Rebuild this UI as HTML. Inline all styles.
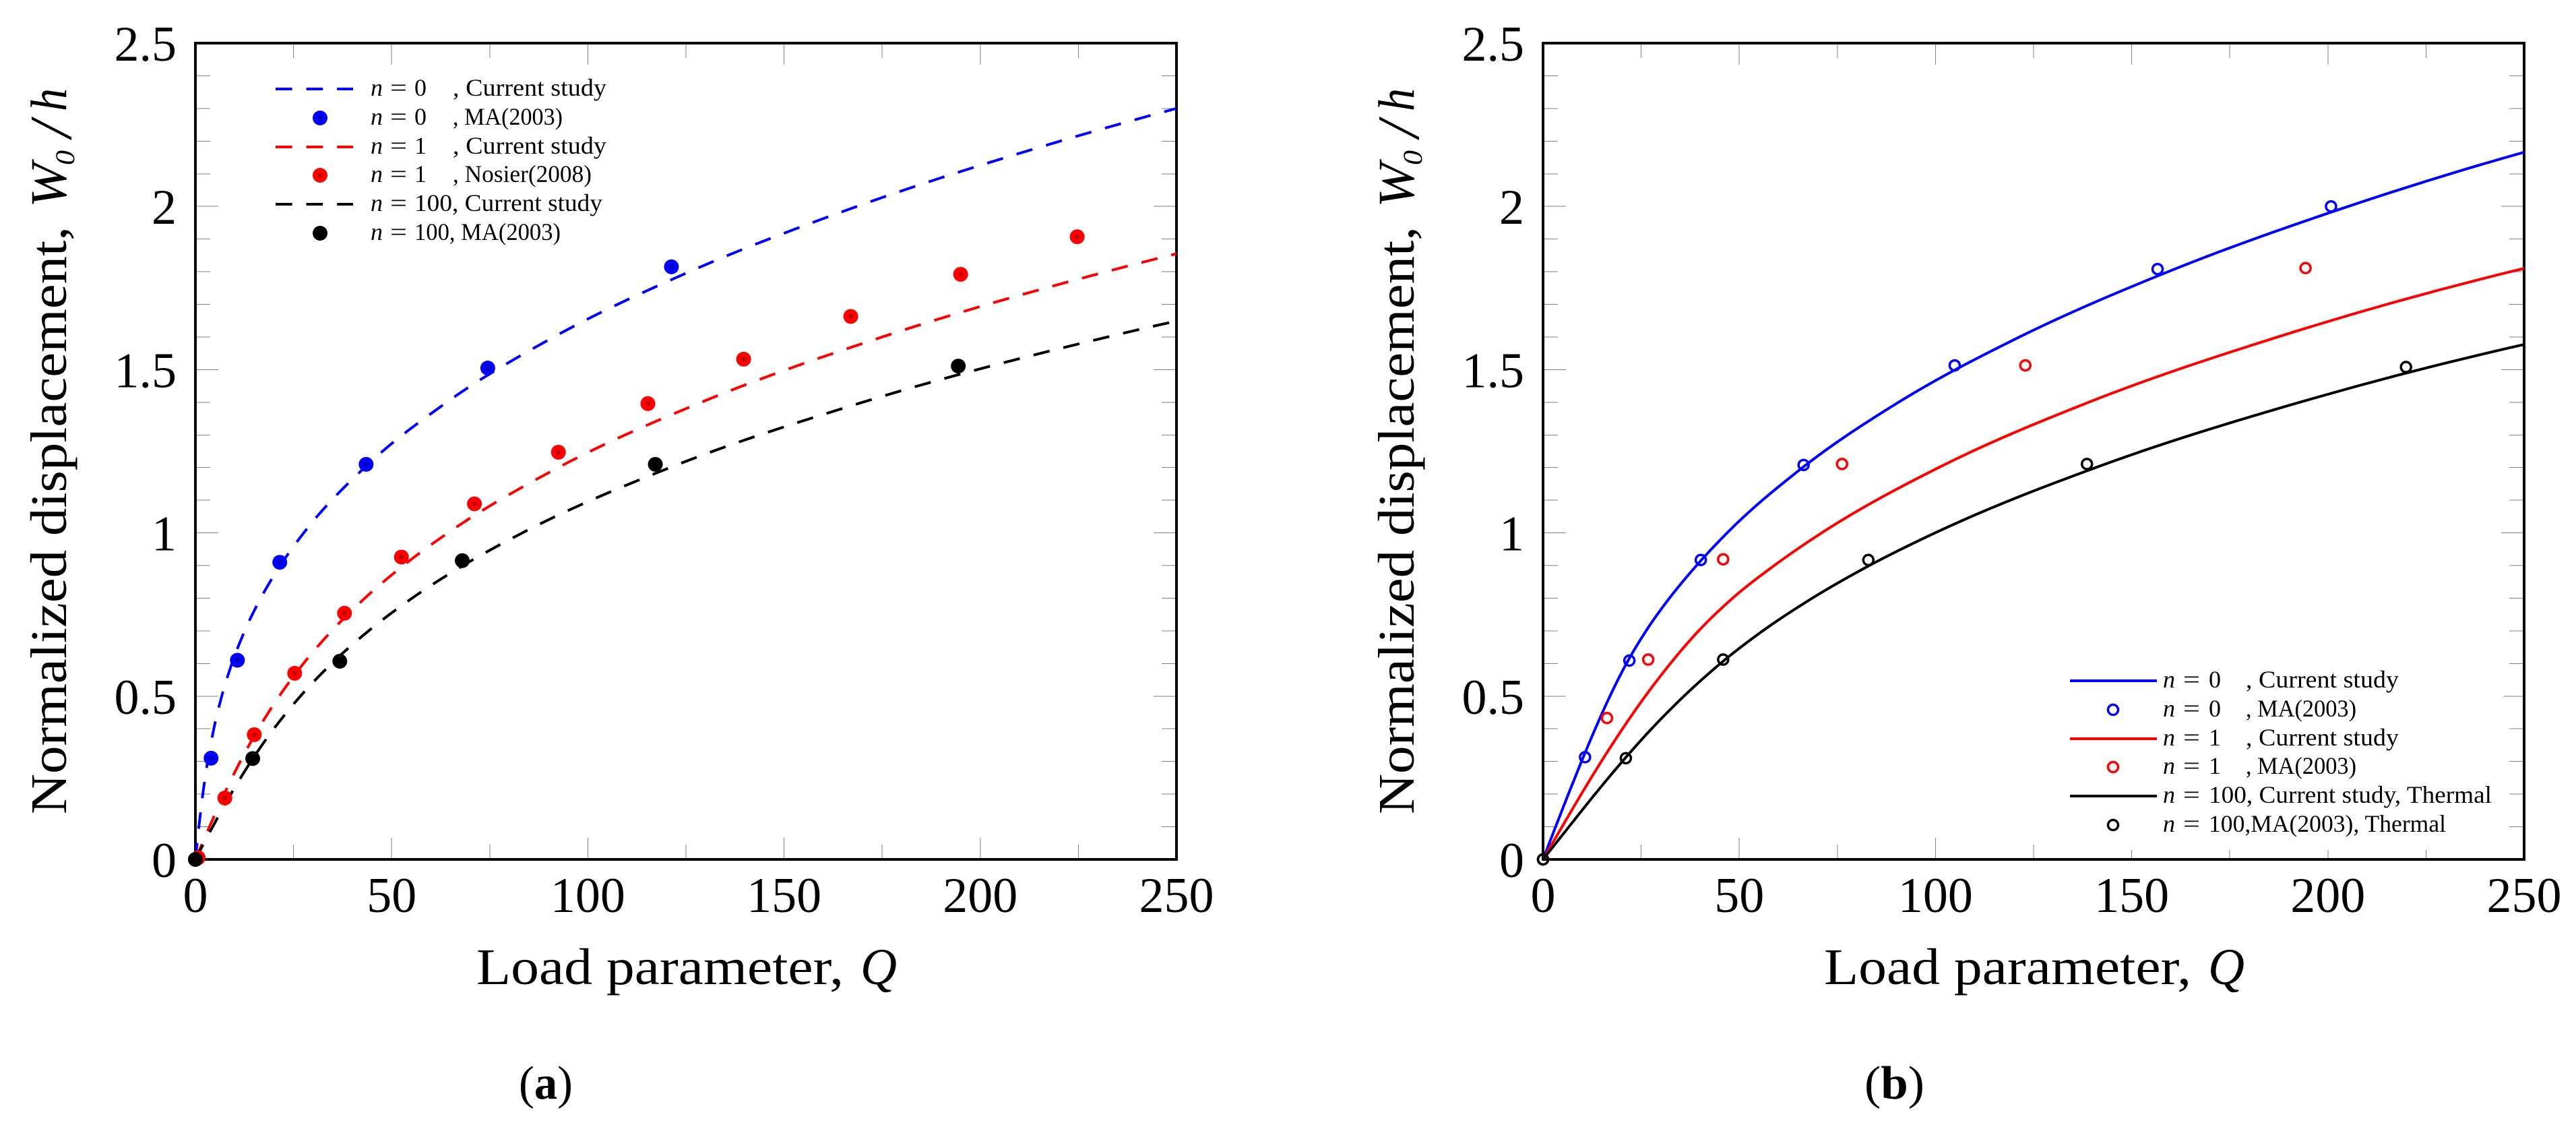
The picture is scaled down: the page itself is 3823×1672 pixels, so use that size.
<!DOCTYPE html>
<html lang="en">
<head>
<meta charset="utf-8">
<title>Normalized displacement versus load parameter</title>
<style>
html,body{margin:0;padding:0;background:#fff;width:3823px;height:1672px;overflow:hidden}
svg{display:block}
text{font-family:"Liberation Serif",serif;fill:#000}
.ax{font-size:76px}
.leg{font-size:36px}
.it{font-style:italic}
</style>
</head>
<body>
<svg id="figure" xmlns="http://www.w3.org/2000/svg" width="3823" height="1672" viewBox="0 0 3823 1672">
<rect x="0" y="0" width="3823" height="1672" fill="#fff"/>

<g id="panel-a"></g>
<g id="panel-b"></g>

<g>
  <text class="ax" x="707" y="1460" textLength="545" lengthAdjust="spacingAndGlyphs">Load parameter,</text>
  <text class="ax it" x="1277" y="1460" textLength="54" lengthAdjust="spacingAndGlyphs">Q</text>
  <g transform="translate(98,1208) rotate(-90)">
    <text class="ax" x="0" y="0" textLength="872" lengthAdjust="spacingAndGlyphs">Normalized displacement,</text>
    <text class="ax it" x="900" y="0" textLength="66" lengthAdjust="spacingAndGlyphs">W</text>
    <text class="it" x="963" y="12" font-size="40" textLength="22" lengthAdjust="spacingAndGlyphs">0</text>
    <text class="it" x="1004" y="7" font-size="88">/</text>
    <text class="ax it" x="1043" y="0" textLength="34" lengthAdjust="spacingAndGlyphs">h</text>
  </g>
  <text x="770" y="1630" font-size="70" textLength="80" lengthAdjust="spacingAndGlyphs">(<tspan font-weight="bold">a</tspan>)</text>
</g>

<g>
  <text class="ax" x="2707" y="1460" textLength="545" lengthAdjust="spacingAndGlyphs">Load parameter,</text>
  <text class="ax it" x="3277" y="1460" textLength="54" lengthAdjust="spacingAndGlyphs">Q</text>
  <g transform="translate(2098,1208) rotate(-90)">
    <text class="ax" x="0" y="0" textLength="872" lengthAdjust="spacingAndGlyphs">Normalized displacement,</text>
    <text class="ax it" x="900" y="0" textLength="66" lengthAdjust="spacingAndGlyphs">W</text>
    <text class="it" x="963" y="12" font-size="40" textLength="22" lengthAdjust="spacingAndGlyphs">0</text>
    <text class="it" x="1004" y="7" font-size="88">/</text>
    <text class="ax it" x="1043" y="0" textLength="34" lengthAdjust="spacingAndGlyphs">h</text>
  </g>
  <text x="2767" y="1630" font-size="70" textLength="89" lengthAdjust="spacingAndGlyphs">(<tspan font-weight="bold">b</tspan>)</text>
</g>

<g>
  <g>
    <line x1="409" x2="524" y1="132" y2="132" stroke="#0000ff" stroke-width="4" stroke-dasharray="24.6 21"/>
    <text class="leg it" x="550" y="142">n</text><text class="leg" x="579" y="142" textLength="25" lengthAdjust="spacingAndGlyphs">=</text><text class="leg" x="615" y="142">0</text>
    <text class="leg" x="672" y="142" textLength="228" lengthAdjust="spacingAndGlyphs">, Current study</text>
  </g>
  <g>
    <circle cx="475" cy="175" r="11" fill="#0000ff"/><circle cx="475" cy="175" r="3.5" fill="#0000c0"/>
    <text class="leg it" x="550" y="185">n</text><text class="leg" x="579" y="185" textLength="25" lengthAdjust="spacingAndGlyphs">=</text><text class="leg" x="615" y="185">0</text>
    <text class="leg" x="672" y="185" textLength="163" lengthAdjust="spacingAndGlyphs">, MA(2003)</text>
  </g>
  <g>
    <line x1="409" x2="524" y1="218" y2="218" stroke="#ff0000" stroke-width="4" stroke-dasharray="24.6 21"/>
    <text class="leg it" x="550" y="228">n</text><text class="leg" x="579" y="228" textLength="25" lengthAdjust="spacingAndGlyphs">=</text><text class="leg" x="615" y="228">1</text>
    <text class="leg" x="672" y="228" textLength="228" lengthAdjust="spacingAndGlyphs">, Current study</text>
  </g>
  <g>
    <circle cx="475" cy="260" r="11" fill="#ff0000"/><circle cx="475" cy="260" r="3.5" fill="#c00000"/>
    <text class="leg it" x="550" y="270">n</text><text class="leg" x="579" y="270" textLength="25" lengthAdjust="spacingAndGlyphs">=</text><text class="leg" x="615" y="270">1</text>
    <text class="leg" x="672" y="270" textLength="206" lengthAdjust="spacingAndGlyphs">, Nosier(2008)</text>
  </g>
  <g>
    <line x1="409" x2="524" y1="303" y2="303" stroke="#000" stroke-width="4" stroke-dasharray="24.6 21"/>
    <text class="leg it" x="550" y="313">n</text><text class="leg" x="579" y="313" textLength="25" lengthAdjust="spacingAndGlyphs">=</text>
    <text class="leg" x="615" y="313" textLength="279" lengthAdjust="spacingAndGlyphs">100, Current study</text>
  </g>
  <g>
    <circle cx="475" cy="346" r="11" fill="#000"/>
    <text class="leg it" x="550" y="356">n</text><text class="leg" x="579" y="356" textLength="25" lengthAdjust="spacingAndGlyphs">=</text>
    <text class="leg" x="615" y="356" textLength="217" lengthAdjust="spacingAndGlyphs">100, MA(2003)</text>
  </g>
</g>

<g>
  <g>
    <line x1="3072" x2="3201" y1="1010" y2="1010" stroke="#0000ff" stroke-width="4"/>
    <text class="leg it" x="3210" y="1020">n</text><text class="leg" x="3240" y="1020" textLength="25" lengthAdjust="spacingAndGlyphs">=</text><text class="leg" x="3278" y="1020">0</text>
    <text class="leg" x="3333" y="1020" textLength="227" lengthAdjust="spacingAndGlyphs">, Current study</text>
  </g>
  <g>
    <circle cx="3136" cy="1053" r="7.5" fill="none" stroke="#0000ff" stroke-width="3.5"/>
    <text class="leg it" x="3210" y="1063">n</text><text class="leg" x="3240" y="1063" textLength="25" lengthAdjust="spacingAndGlyphs">=</text><text class="leg" x="3278" y="1063">0</text>
    <text class="leg" x="3333" y="1063" textLength="164" lengthAdjust="spacingAndGlyphs">, MA(2003)</text>
  </g>
  <g>
    <line x1="3072" x2="3201" y1="1096" y2="1096" stroke="#ff0000" stroke-width="4"/>
    <text class="leg it" x="3210" y="1106">n</text><text class="leg" x="3240" y="1106" textLength="25" lengthAdjust="spacingAndGlyphs">=</text><text class="leg" x="3278" y="1106">1</text>
    <text class="leg" x="3333" y="1106" textLength="227" lengthAdjust="spacingAndGlyphs">, Current study</text>
  </g>
  <g>
    <circle cx="3136" cy="1138" r="7.5" fill="none" stroke="#ff0000" stroke-width="3.5"/>
    <text class="leg it" x="3210" y="1148">n</text><text class="leg" x="3240" y="1148" textLength="25" lengthAdjust="spacingAndGlyphs">=</text><text class="leg" x="3278" y="1148">1</text>
    <text class="leg" x="3333" y="1148" textLength="164" lengthAdjust="spacingAndGlyphs">, MA(2003)</text>
  </g>
  <g>
    <line x1="3072" x2="3201" y1="1181" y2="1181" stroke="#000" stroke-width="4"/>
    <text class="leg it" x="3210" y="1191">n</text><text class="leg" x="3240" y="1191" textLength="25" lengthAdjust="spacingAndGlyphs">=</text>
    <text class="leg" x="3278" y="1191" textLength="420" lengthAdjust="spacingAndGlyphs">100, Current study, Thermal</text>
  </g>
  <g>
    <circle cx="3136" cy="1224" r="7.5" fill="none" stroke="#000" stroke-width="3.5"/>
    <text class="leg it" x="3210" y="1234">n</text><text class="leg" x="3240" y="1234" textLength="25" lengthAdjust="spacingAndGlyphs">=</text>
    <text class="leg" x="3278" y="1234" textLength="352" lengthAdjust="spacingAndGlyphs">100,MA(2003), Thermal</text>
  </g>
</g>
</svg>

<script>
// Axis data
const xMajorTicks = [0, 50, 100, 150, 200, 250];
const xMinorTicks = [25, 75, 125, 175, 225];
const xTickLabels = ['0', '50', '100', '150', '200', '250'];
const yMajorTicks = [0, 0.5, 1, 1.5, 2, 2.5];
const yMinorTicks = [0.1, 0.2, 0.3, 0.4, 0.6, 0.7, 0.8, 0.9, 1.1, 1.2, 1.3, 1.4, 1.6, 1.7, 1.8, 1.9, 2.1, 2.2, 2.3, 2.4];
const yTickLabels = ['0', '0.5', '1', '1.5', '2', '2.5'];

// Panel (a): current-study curves
const aBlueCurveQ = [0, 0.89, 1.89, 3.12, 4.69, 6.71, 9.3, 12.57, 16.64, 21.61, 27.6, 43.1, 64.04, 91.33, 125.9, 168.6, 220.4, 250];
const aBlueCurveW = [0, 0.1, 0.2, 0.3, 0.4, 0.5, 0.6, 0.7, 0.8, 0.9, 1, 1.2, 1.4, 1.6, 1.8, 2, 2.2, 2.3];
const aRedCurveQ = [0, 3.58, 7.33, 11.43, 16.05, 21.36, 27.53, 34.75, 43.17, 52.98, 64.35, 92.45, 128.9, 175, 232.1, 250];
const aRedCurveW = [0, 0.1, 0.2, 0.3, 0.4, 0.5, 0.6, 0.7, 0.8, 0.9, 1, 1.2, 1.4, 1.6, 1.8, 1.855];
const aBlackCurveQ = [0, 4.4, 9.04, 14.15, 19.98, 26.76, 34.73, 44.14, 55.21, 68.18, 83.3, 120.9, 170, 232.4, 250];
const aBlackCurveW = [0, 0.1, 0.2, 0.3, 0.4, 0.5, 0.6, 0.7, 0.8, 0.9, 1, 1.2, 1.4, 1.6, 1.649];

// Panel (a): reference points
const aBlueMarkQ = [0, 4, 10.7, 21.5, 43.5, 74.5, 121.3];
const aBlueMarkW = [0, 0.31, 0.61, 0.91, 1.21, 1.505, 1.815];
const aRedMarkQ = [0.7, 7.5, 15, 25.3, 38, 52.5, 71.1, 92.5, 115.3, 139.7, 167, 195, 224.7];
const aRedMarkW = [0.005, 0.188, 0.382, 0.57, 0.754, 0.926, 1.089, 1.247, 1.396, 1.532, 1.663, 1.792, 1.907];
const aBlackMarkQ = [0, 14.6, 36.8, 68, 117.2, 194.4];
const aBlackMarkW = [0, 0.309, 0.607, 0.915, 1.21, 1.511];

// Panel (b): current-study curves
const bBlueCurveQ = [0, 3.2, 6.45, 9.8, 13.3, 17.05, 21.25, 26.25, 32.2, 39.1, 46.9, 66.12, 90.58, 121.4, 159.3, 205.2, 250];
const bBlueCurveW = [0, 0.1, 0.2, 0.3, 0.4, 0.5, 0.6, 0.7, 0.8, 0.9, 1, 1.2, 1.4, 1.6, 1.8, 2, 2.166];
const bRedCurveQ = [0, 4.85, 9.75, 14.85, 20.25, 26.05, 32.45, 39.65, 48.3, 58.9, 71, 100.8, 139, 187.2, 250];
const bRedCurveW = [0, 0.1, 0.2, 0.3, 0.4, 0.5, 0.6, 0.7, 0.8, 0.9, 1, 1.2, 1.4, 1.6, 1.81];
const bBlackCurveQ = [0, 6.6, 13.25, 20.2, 27.65, 35.9, 45.2, 56, 68.6, 83.15, 99.9, 140.8, 192.8, 250];
const bBlackCurveW = [0, 0.1, 0.2, 0.3, 0.4, 0.5, 0.6, 0.7, 0.8, 0.9, 1, 1.2, 1.4, 1.577];

// Panel (b): reference points
const bBlueMarkQ = [0, 10.7, 22, 40.2, 66.4, 104.9, 156.6, 200.8];
const bBlueMarkW = [0, 0.313, 0.609, 0.917, 1.208, 1.513, 1.808, 2.0];
const bRedMarkQ = [0, 16.3, 26.8, 45.9, 76.2, 122.9, 194.3];
const bRedMarkW = [0, 0.433, 0.612, 0.919, 1.211, 1.513, 1.811];
const bBlackMarkQ = [0, 21.1, 45.9, 82.9, 138.6, 219.9];
const bBlackMarkW = [0, 0.31, 0.612, 0.917, 1.211, 1.508];

const SVGNS = 'http://www.w3.org/2000/svg';
const X_MAX = 250, Y_MAX = 2.5, PLOT_W = 1456, PLOT_TOP = 64, PLOT_BOTTOM = 1275;

function make(parent, tag, attrs) {
  const el = document.createElementNS(SVGNS, tag);
  for (const k in attrs) el.setAttribute(k, attrs[k]);
  parent.appendChild(el);
  return el;
}
function yScale(v) {
  return PLOT_BOTTOM - (v / Y_MAX) * (PLOT_BOTTOM - PLOT_TOP);
}
function xScaleFor(left) {
  return function (q) { return left + (q / X_MAX) * PLOT_W; };
}
// Cubic Hermite through the read points, with parabolic (three-point) end and interior slopes.
function smoothPath(xs, ys, xScale) {
  const px = xs.map(xScale);
  const py = ys.map(yScale);
  const n = px.length;
  const h = [], s = [], m = [];
  for (let i = 0; i < n - 1; i++) {
    h.push(px[i + 1] - px[i]);
    s.push((py[i + 1] - py[i]) / h[i]);
  }
  for (let i = 0; i < n; i++) {
    if (i === 0) m.push(n > 2 ? s[0] + (s[0] - s[1]) * h[0] / (h[0] + h[1]) : s[0]);
    else if (i === n - 1) m.push(n > 2 ? s[n - 2] + (s[n - 2] - s[n - 3]) * h[n - 2] / (h[n - 2] + h[n - 3]) : s[n - 2]);
    else m.push((h[i] * s[i - 1] + h[i - 1] * s[i]) / (h[i - 1] + h[i]));
  }
  let d = 'M' + px[0].toFixed(2) + ' ' + py[0].toFixed(2);
  for (let i = 0; i < n - 1; i++) {
    const t = h[i] / 3;
    d += ' C' + (px[i] + t).toFixed(2) + ' ' + (py[i] + m[i] * t).toFixed(2) +
         ' ' + (px[i + 1] - t).toFixed(2) + ' ' + (py[i + 1] - m[i + 1] * t).toFixed(2) +
         ' ' + px[i + 1].toFixed(2) + ' ' + py[i + 1].toFixed(2);
  }
  return d;
}
function drawAxes(group, left, suffix) {
  const xScale = xScaleFor(left);
  const right = left + PLOT_W;
  const tickStyle = { stroke: '#808080', 'stroke-width': 1, 'shape-rendering': 'crispEdges' };
  function tickLine(x1, y1, x2, y2) {
    const el = make(group, 'line', Object.assign({ x1: x1, y1: y1, x2: x2, y2: y2 }, tickStyle));
    
    
  }
  function vTicks(values, len) {
    values.forEach(function (q) {
      if (q <= 0 || q >= X_MAX) return;
      tickLine(xScale(q), PLOT_TOP + 2, xScale(q), PLOT_TOP + 2 + len);
      tickLine(xScale(q), PLOT_BOTTOM - 2, xScale(q), PLOT_BOTTOM - 2 - len);
    });
  }
  function hTicks(values, len) {
    values.forEach(function (v) {
      if (v <= 0 || v >= Y_MAX) return;
      tickLine(left + 2, yScale(v), left + 2 + len, yScale(v));
      tickLine(right - 2, yScale(v), right - 2 - len, yScale(v));
    });
  }
  vTicks(xMajorTicks, 30);
  vTicks(xMinorTicks, 20);
  hTicks(yMajorTicks, 32);
  hTicks(yMinorTicks, 20);

  if (suffix === 'b') {
    const mask = make(group, 'rect', { x: 3055, y: 985, width: 660, height: 276, fill: '#fff' });
    
    
  }

  const frame = make(group, 'rect', { x: left, y: PLOT_TOP, width: PLOT_W, height: PLOT_BOTTOM - PLOT_TOP, fill: 'none', stroke: '#000', 'stroke-width': 4 });
  
  

  xMajorTicks.forEach(function (q, i) {
    const t = make(group, 'text', { x: xScale(q), y: 1353, 'text-anchor': 'middle', 'font-size': 74 });
    
    
    t.textContent = xTickLabels[i];
  });
  yMajorTicks.forEach(function (v, i) {
    const t = make(group, 'text', { x: left - 28, y: yScale(v) + 26, 'text-anchor': 'end', 'font-size': 74 });
    
    
    t.textContent = yTickLabels[i];
  });
}
function drawCurve(group, xs, ys, left, color, dashed, name) {
  const el = make(group, 'path', {
    d: smoothPath(xs, ys, xScaleFor(left)), fill: 'none', stroke: color,
    'stroke-width': 4, 'stroke-dasharray': dashed ? '24.6 21' : 'none'
  });
  
  
}
function drawFilledMarks(group, xs, ys, left, color, core, name) {
  const xScale = xScaleFor(left);
  xs.forEach(function (q, i) {
    const dot = make(group, 'circle', { cx: xScale(q), cy: yScale(ys[i]), r: 11, fill: color });
    
    
    if (core) {
      const c = make(group, 'circle', { cx: xScale(q), cy: yScale(ys[i]), r: 3.5, fill: core });
      
      
    }
  });
}
function drawOpenMarks(group, xs, ys, left, color, name) {
  const xScale = xScaleFor(left);
  xs.forEach(function (q, i) {
    const dot = make(group, 'circle', { cx: xScale(q), cy: yScale(ys[i]), r: 7.5, fill: 'none', stroke: color, 'stroke-width': 3.5 });
    
    
  });
}

const panelA = document.getElementById('panel-a');
const panelB = document.getElementById('panel-b');
const LEFT_A = 290, LEFT_B = 2290;

drawAxes(panelA, LEFT_A, 'a');
drawCurve(panelA, aBlueCurveQ, aBlueCurveW, LEFT_A, '#0000ff', true, 'curve-a-n0');
drawCurve(panelA, aRedCurveQ, aRedCurveW, LEFT_A, '#ff0000', true, 'curve-a-n1');
drawCurve(panelA, aBlackCurveQ, aBlackCurveW, LEFT_A, '#000000', true, 'curve-a-n100');
drawFilledMarks(panelA, aBlueMarkQ, aBlueMarkW, LEFT_A, '#0000ff', '#0000c0', 'point-a-n0');
drawFilledMarks(panelA, aRedMarkQ, aRedMarkW, LEFT_A, '#ff0000', '#c00000', 'point-a-n1');
drawFilledMarks(panelA, aBlackMarkQ, aBlackMarkW, LEFT_A, '#000000', null, 'point-a-n100');

drawAxes(panelB, LEFT_B, 'b');
drawCurve(panelB, bBlueCurveQ, bBlueCurveW, LEFT_B, '#0000ff', false, 'curve-b-n0');
drawCurve(panelB, bRedCurveQ, bRedCurveW, LEFT_B, '#ff0000', false, 'curve-b-n1');
drawCurve(panelB, bBlackCurveQ, bBlackCurveW, LEFT_B, '#000000', false, 'curve-b-n100');
drawOpenMarks(panelB, bBlueMarkQ, bBlueMarkW, LEFT_B, '#0000ff', 'point-b-n0');
drawOpenMarks(panelB, bRedMarkQ, bRedMarkW, LEFT_B, '#ff0000', 'point-b-n1');
drawOpenMarks(panelB, bBlackMarkQ, bBlackMarkW, LEFT_B, '#000000', 'point-b-n100');
</script>
</body>
</html>
